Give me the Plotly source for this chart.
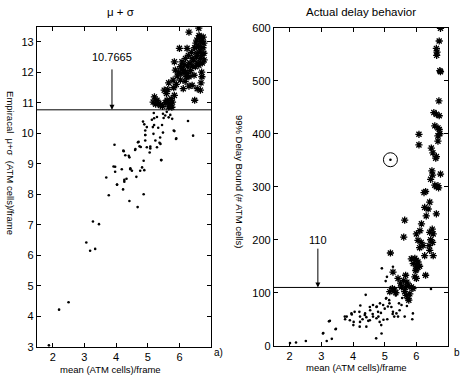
import plotly.graph_objects as go

# ---------------- data ----------------
left_dot_x = [3.69, 3.95, 3.92, 3.97, 4.03, 4.18, 4.24, 4.40, 4.45, 4.50, 4.61, 4.69, 4.74, 4.78, 4.82, 4.87,
              4.89, 4.89, 4.92, 4.97, 4.92, 4.97, 5.06, 5.08, 5.13, 5.16, 5.18, 5.24, 5.29, 5.33, 5.40, 5.42,
              5.19, 5.29, 5.48, 5.50, 5.55, 5.60, 5.66, 5.77, 5.82, 5.89, 6.27, 6.43, 4.03, 4.26, 4.26, 3.77,
              4.22, 4.42, 4.87, 4.68, 3.27, 3.46, 3.06, 3.18, 3.34, 2.50, 2.20, 1.88,
              4.23, 4.29, 4.42, 4.60, 4.71, 4.92, 5.08, 5.37, 5.39, 5.48, 5.45, 5.20, 5.20, 4.85, 4.92, 5.71,
              5.84, 5.90, 5.43, 4.76, 4.64, 4.45, 3.97, 4.33]
left_dot_y = [8.55, 9.62, 8.91, 8.74, 8.31, 8.82, 9.41, 9.26, 8.82, 8.77, 9.48, 9.70, 9.57, 9.55, 8.88, 9.10,
              8.79, 10.29, 10.09, 10.20, 9.76, 9.54, 9.37, 9.50, 10.44, 10.20, 9.98, 9.76, 9.54, 10.18, 9.65, 9.12,
              10.66, 10.53, 10.64, 10.50, 10.58, 10.70, 10.52, 10.47, 10.09, 9.81, 10.40, 9.92, 8.32, 8.41, 8.47, 7.97,
              8.16, 7.78, 8.00, 7.58, 7.11, 7.02, 6.42, 6.15, 6.21, 4.46, 4.22, 3.05,
              9.43, 9.28, 9.21, 9.45, 9.72, 9.94, 9.56, 9.69, 9.86, 10.02, 10.27, 10.27, 10.49, 10.38, 9.94, 10.60,
              10.07, 9.83, 9.12, 8.77, 8.57, 8.85, 8.90, 8.51]

left_star_x = [5.17, 5.21, 5.25, 5.29, 5.35, 5.40, 5.47, 5.52, 5.55, 5.59, 5.61, 5.63, 5.66, 5.66, 5.70, 5.71,
               5.74, 5.76, 5.78, 5.80, 5.82, 5.84, 5.84, 5.87, 5.90, 5.93, 5.96, 6.00, 6.03, 6.03, 6.05, 6.08,
               6.10, 6.12, 6.13, 6.15, 6.18, 6.19, 6.20, 6.22, 6.24, 6.24, 6.26, 6.28, 6.30, 6.30, 6.30, 6.33,
               6.35, 6.38, 6.40, 6.40, 6.42, 6.45, 6.46, 6.48, 6.48, 6.50, 6.52, 6.54, 6.55, 6.56, 6.56, 6.58,
               6.60, 6.61, 6.61, 6.61, 6.62, 6.64, 6.65, 6.66, 6.66, 6.68, 6.70, 6.71, 6.72, 6.72, 6.74, 6.75,
               6.77, 6.77, 6.78, 6.70, 6.68]
left_star_y = [11.02, 11.19, 10.95, 11.08, 10.98, 10.91, 10.88, 11.41, 11.00, 11.30, 11.08, 11.43, 10.86, 11.65, 10.95, 10.97,
               11.13, 10.85, 11.02, 11.74, 11.49, 11.24, 12.34, 12.07, 11.60, 11.87, 12.00, 12.78, 12.18, 11.74, 11.95, 12.34,
               12.10, 11.46, 12.04, 12.25, 11.70, 12.45, 12.00, 11.85, 11.96, 12.78, 12.20, 12.55, 11.85, 11.54, 13.31, 12.30,
               12.05, 12.65, 11.57, 12.20, 12.45, 12.40, 11.90, 11.08, 12.80, 12.18, 12.95, 12.50, 13.05, 11.46, 12.62, 12.30,
               12.85, 13.44, 12.84, 12.23, 13.20, 13.16, 12.70, 11.41, 12.45, 13.00, 12.55, 11.85, 13.05, 12.30, 12.80, 13.15,
               12.62, 12.95, 12.40, 12.00, 11.65]

right_dot_x = [2.01, 2.20, 2.51, 3.17, 3.33, 3.06, 3.46, 3.27, 3.75, 3.80, 3.96, 3.90, 4.01, 4.20, 4.22, 4.22,
               4.30, 4.38, 4.42, 4.48, 4.54, 4.40, 4.62, 4.75, 4.80, 4.85, 4.88, 4.96, 5.00, 5.04, 5.10, 5.15,
               5.08, 4.90, 4.73, 5.05, 5.25, 5.30, 4.91, 5.26, 5.07, 5.03, 4.23, 4.05, 3.95, 3.74, 4.02, 4.21,
               4.37, 4.53, 4.63, 4.74, 4.79, 4.95, 5.14, 5.21, 5.26, 5.37, 5.47, 5.53, 5.42, 5.63, 5.89, 5.87,
               4.63, 4.74, 4.84, 4.89, 4.53, 4.42, 3.24, 3.45, 3.05, 6.46, 5.55, 5.45, 5.70, 5.35]
right_dot_y = [5, 6, 9, 9, 13, 24, 32, 47, 50, 55, 59, 48, 39, 64, 55, 45,
               50, 61, 54, 47, 67, 96, 60, 74, 55, 80, 62, 49, 70, 89, 74, 80,
               50, 23, 14, 90, 60, 55, 146, 149, 130, 122, 76, 64, 61, 55, 45, 36,
               58, 73, 77, 73, 64, 77, 86, 73, 64, 61, 67, 77, 55, 55, 61, 50,
               55, 52, 45, 39, 48, 36, 46, 31, 23, 107, 90, 80, 75, 95]

right_star_x = [6.76, 6.72, 6.63, 6.65, 6.64, 6.74, 6.76, 6.71, 6.55, 6.63, 6.72, 6.58, 6.68, 6.74, 6.68, 6.72,
                6.68, 6.08, 6.08, 6.47, 6.52, 6.61, 6.63, 6.76, 6.51, 6.45, 6.49, 6.58, 6.63, 6.68, 6.70, 6.29,
                6.24, 6.26, 6.37, 6.42, 6.31, 6.63, 6.16, 6.11, 6.00, 6.05, 6.21, 6.42, 6.53, 6.51, 6.40, 6.42,
                6.26, 6.53, 6.45, 6.50, 6.10, 6.15, 5.63, 5.60, 5.18, 5.84, 5.90, 5.95, 6.00, 6.00, 6.05, 5.98,
                6.00, 6.05, 6.10, 6.00, 5.95, 6.29, 5.66, 5.26, 5.60, 5.42, 5.53, 5.74, 5.84, 5.89, 5.70, 5.65,
                5.24, 5.31, 5.16, 5.35, 5.63, 5.68, 5.79, 5.74, 5.76, 5.50]
right_star_y = [599, 575, 561, 554, 548, 519, 517, 462, 440, 437, 434, 415, 411, 400, 396, 408,
                386, 399, 379, 373, 364, 354, 357, 324, 322, 314, 330, 303, 300, 302, 298, 291,
                289, 261, 258, 271, 245, 249, 230, 217, 211, 199, 189, 214, 211, 195, 189, 180,
                170, 170, 200, 220, 185, 195, 237, 205, 175, 164, 155, 165, 161, 152, 148, 142,
                145, 158, 150, 127, 130, 133, 133, 139, 123, 127, 111, 114, 111, 108, 120, 110,
                108, 105, 102, 100, 102, 95, 98, 89, 86, 118]

outlier_x = [5.18]
outlier_y = [351]

left_threshold = 10.7665
right_threshold = 110
left_label = "10.7665"
right_label = "110"

left_yticks = list(range(3, 14))
right_yticks = list(range(0, 601, 100))
xticks = [2, 3, 4, 5, 6]

# ---------------- figure ----------------
FONT = "Liberation Sans, Arial, sans-serif"
fig = go.Figure()

dot = dict(symbol="circle", size=2.6, color="black", line=dict(width=0))
star = dict(symbol="asterisk-open", size=6, color="black", line=dict(width=1.3, color="black"))

fig.add_trace(go.Scatter(x=left_dot_x, y=left_dot_y, mode="markers", marker=dot, xaxis="x", yaxis="y"))
fig.add_trace(go.Scatter(x=left_star_x, y=left_star_y, mode="markers", marker=star, xaxis="x", yaxis="y"))
fig.add_trace(go.Scatter(x=right_dot_x, y=right_dot_y, mode="markers", marker=dot, xaxis="x2", yaxis="y2"))
fig.add_trace(go.Scatter(x=right_star_x, y=right_star_y, mode="markers", marker=star, xaxis="x2", yaxis="y2"))
fig.add_trace(go.Scatter(x=outlier_x, y=outlier_y, mode="markers",
                         marker=dict(symbol="circle-open", size=14, color="black", line=dict(width=1, color="black")),
                         xaxis="x2", yaxis="y2"))
fig.add_trace(go.Scatter(x=outlier_x, y=outlier_y, mode="markers", marker=dot, xaxis="x2", yaxis="y2"))

axis_common = dict(showline=True, linecolor="black", linewidth=1, mirror="ticks", ticks="inside",
                   ticklen=4, tickcolor="black", showgrid=False, zeroline=False, automargin=False,
                   tickfont=dict(family=FONT, size=11, color="black"))

fig.update_layout(
    width=461, height=375,
    margin=dict(l=0, r=0, t=0, b=0, autoexpand=False),
    paper_bgcolor="white", plot_bgcolor="white",
    showlegend=False,
    font=dict(family=FONT, color="black"),
    xaxis=dict(domain=[0.080, 0.458], range=[1.5, 7], tickvals=xticks, anchor="y", **axis_common),
    yaxis=dict(domain=[0.075, 0.928], range=[3, 13.48], tickvals=left_yticks, anchor="x", **axis_common),
    xaxis2=dict(domain=[0.594, 0.972], range=[1.5, 7], tickvals=xticks, anchor="y2", **axis_common),
    yaxis2=dict(domain=[0.078, 0.926], range=[0, 600], tickvals=right_yticks, anchor="x2", **axis_common),
)

fig.add_shape(type="line", xref="x domain", yref="y", x0=0, x1=1, y0=left_threshold, y1=left_threshold,
              line=dict(color="black", width=1))
fig.add_shape(type="line", xref="x2 domain", yref="y2", x0=0, x1=1, y0=right_threshold, y1=right_threshold,
              line=dict(color="black", width=1))


def txt(x, y, text, size, xref="paper", yref="paper", angle=0):
    return dict(x=x, y=y, xref=xref, yref=yref, text=text, showarrow=False, textangle=angle,
                xanchor="center", yanchor="middle", font=dict(family=FONT, size=size, color="black"))


ann = []
# arrows
ann.append(dict(x=3.87, y=left_threshold, ax=3.87, ay=12.14, xref="x", yref="y", axref="x", ayref="y",
                text="", showarrow=True, arrowhead=2, arrowsize=1, arrowwidth=1, arrowcolor="black"))
ann.append(txt(3.87, 12.5, left_label, 11, "x", "y"))
ann.append(dict(x=2.89, y=right_threshold, ax=2.89, ay=186, xref="x2", yref="y2", axref="x2", ayref="y2",
                text="", showarrow=True, arrowhead=2, arrowsize=1, arrowwidth=1, arrowcolor="black"))
ann.append(txt(2.89, 199, right_label, 11, "x2", "y2"))
# titles
ann.append(txt(0.262, 0.968, "μ + σ", 11.5))
ann.append(txt(0.783, 0.968, "Actual delay behavior", 11.5))
# x axis titles
ann.append(txt(0.239, 0.015, "mean (ATM cells)/frame", 9.5))
ann.append(txt(0.774, 0.019, "mean (ATM cells)/frame", 9.5))
# y axis titles
ann.append(txt(0.024, 0.565, "Empiracal  μ+σ  (ATM cells)/frame", 9.5, angle=90))
ann.append(txt(0.521, 0.517, "99% Delay Bound (# ATM cells)", 9.5, angle=90))
# panel labels
ann.append(txt(0.475, 0.061, "a)", 10))
ann.append(txt(0.992, 0.061, "b", 10))
fig.update_layout(annotations=ann)

fig.write_html("out.html", config={"displayModeBar": False},
               post_script="document.body.style.margin='0';")
